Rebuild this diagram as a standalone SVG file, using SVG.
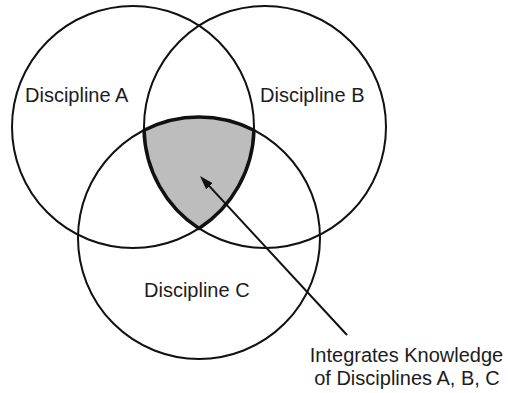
<svg xmlns="http://www.w3.org/2000/svg" width="508" height="393" viewBox="0 0 508 393">
  <style>
    .ring { fill: none; stroke: #111; stroke-width: 2; }
    .label { font-family: "Liberation Sans", Arial, sans-serif; font-size: 20px; fill: #1c1c1c; }
    .core { fill: #bdbdbd; stroke: #111; stroke-width: 3.5; stroke-linejoin: round; }
    .conn { stroke: #111; stroke-width: 2; fill: none; }
  </style>
  <defs>
    <marker id="arrow" markerUnits="userSpaceOnUse" markerWidth="14" markerHeight="10" refX="6" refY="4.5" orient="auto">
      <path d="M0,0 L14,4.5 L0,9 z" fill="#111"/>
    </marker>
  </defs>
  <rect width="508" height="393" fill="#fff"/>
  <g id="overlap-fill">
    <path d="M144.05,130.2 A121,121 0 0 1 253.95,130.2 A121,121 0 0 1 199,228.42 A121,121 0 0 1 144.05,130.2 Z" fill="#bdbdbd"/>
  </g>
  <g id="discipline-a">
    <circle class="ring" cx="133" cy="127" r="121"/>
    <text class="label" x="25" y="102">Discipline A</text>
  </g>
  <g id="discipline-b">
    <circle class="ring" cx="265" cy="127" r="121"/>
    <text class="label" x="260" y="102">Discipline B</text>
  </g>
  <g id="discipline-c">
    <circle class="ring" cx="199" cy="238" r="121"/>
    <text class="label" x="144" y="297">Discipline C</text>
  </g>
  <g id="overlap">
    <path class="core" d="M144.05,130.2 A121,121 0 0 1 253.95,130.2 A121,121 0 0 1 199,228.42 A121,121 0 0 1 144.05,130.2 Z"/>
  </g>
  <g id="connectors">
    <line class="conn" x1="347" y1="335" x2="205.4" y2="181.9" marker-end="url(#arrow)"/>
  </g>
  <g id="integration-note">
    <text class="label" x="406.5" y="362" text-anchor="middle">Integrates Knowledge</text>
    <text class="label" x="407" y="385" text-anchor="middle">of Disciplines A, B, C</text>
  </g>
</svg>
